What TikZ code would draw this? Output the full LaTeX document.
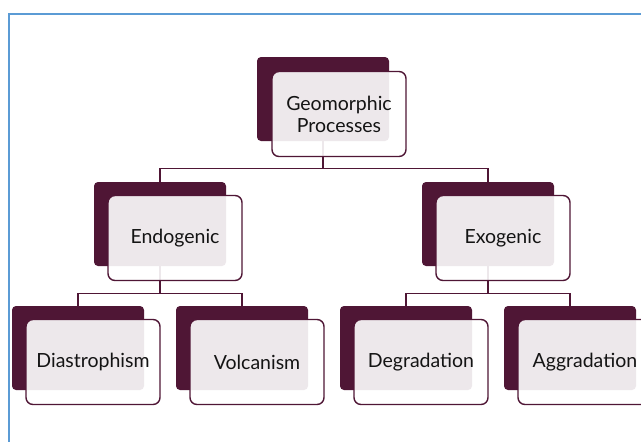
\documentclass[tikz,border=0pt]{standalone}
\usepackage{fontspec}
\setmainfont{Lato}
\usepackage{tikz}
\definecolor{plum}{HTML}{4F1635}
\definecolor{frameblue}{HTML}{5B9BD5}
\tikzset{darkbox/.style={fill=plum, rounded corners=4pt, minimum width=132pt,
  minimum height=84pt, inner sep=0pt},
 lightbox/.style={draw=plum, line width=1.4pt, fill=white, fill opacity=0.9,
  text opacity=1, rounded corners=7pt, minimum width=134pt, minimum height=85pt,
  inner sep=0pt, align=center, text=black!92,
  font=\fontsize{19.5}{22}\selectfont},
 link/.style={draw=plum, line width=1.2pt},
 }

\begin{document}
\begin{tikzpicture}[x=1pt, y=-1pt]
        \clip (0,0) rectangle (641,442);
        \fill[white] (0,0) rectangle (641,442);
        \draw[frameblue, line width=2pt] (9,442) -- (9,14) -- (641,14);

        % back shapes
        \node[darkbox] (geoback) at (323, 99) {};
        \node[darkbox] (endoback) at (160, 224) {};
        \node[darkbox] (exoback) at (488, 224) {};
        \node[darkbox] (diaback) at (78, 348) {};
        \node[darkbox] (volback) at (242, 348) {};
        \node[darkbox] (degback) at (406, 348) {};
        \node[darkbox] (aggback) at (570, 348) {};

        % connectors
        \draw[link] (geoback.south) -- ++(0, 27) coordinate (geosplit) -| (endoback.north);
        \draw[link] (geosplit) -| (exoback.north);
        \draw[link] (endoback.south) -- ++(0, 27) coordinate (endosplit) -| (diaback.north);
        \draw[link] (endosplit) -| (volback.north);
        \draw[link] (exoback.south) -- ++(0, 27) coordinate (exosplit) -| (degback.north);
        \draw[link] (exosplit) -| (aggback.north);

        % front boxes
        \node[lightbox] (geo) at (339, 114) {Geomorphic\\Processes};
        \node[lightbox] (endo) at (175, 238) {Endogenic};
        \node[lightbox] (exo) at (503, 238) {Exogenic};
        \node[lightbox] (dia) at (93, 362) {Diastrophism};
        \node[lightbox] (vol) at (257, 362) {Volcanism};
        \node[lightbox] (deg) at (421, 362) {Degradation};
        \node[lightbox] (agg) at (585, 362) {Aggradation};
\end{tikzpicture}
\end{document}
